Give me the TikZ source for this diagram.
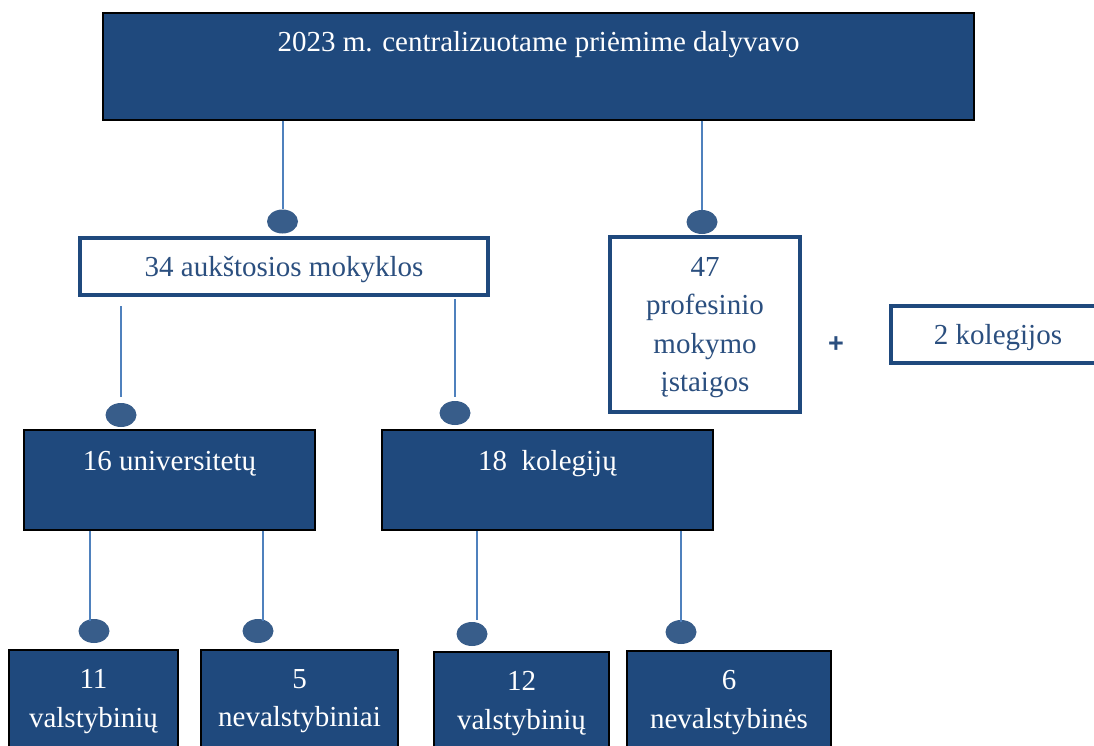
\documentclass[tikz,border=0pt]{standalone}
\usepackage{fontspec}
\setmainfont{Liberation Serif}
\newfontfamily\plusfont{Liberation Sans}
\usetikzlibrary{shapes.geometric}
\definecolor{navy}{HTML}{1F497D}
\definecolor{linkblue}{HTML}{4F81BD}
\definecolor{dotblue}{HTML}{385D8A}
\definecolor{txtblue}{HTML}{2B4F7F}
\tikzset{
  darkbox/.style={draw=black, line width=1.5pt, fill=navy, rectangle, inner sep=0pt},
  whitebox/.style={draw=navy, line width=4pt, fill=white, rectangle, inner sep=0pt, text=txtblue, align=center, text depth=0pt},
  dotnode/.style={ellipse, fill=dotblue, minimum width=31pt, minimum height=24pt, inner sep=0pt},
  conn/.style={draw=linkblue, line width=2pt},
  intext/.style={text=white, align=center, inner sep=0pt},
}
\begin{document}
\begin{tikzpicture}[x=1pt,y=-1pt,font=\fontsize{29}{38.5}\selectfont]
\useasboundingbox (0,0) rectangle (1094,746);
% boxes
\node[darkbox, minimum width=871pt, minimum height=107pt,
  label={[intext, anchor=base, yshift=-39pt]north:2023 m. centralizuotame priėmime dalyvavo}]
  (top) at (538.5,66.5) {};
\node[whitebox, minimum width=408pt, minimum height=57pt] (aukst) at (284,266.5) {34 aukštosios mokyklos};
\node[whitebox, minimum width=190pt, minimum height=175pt] (prof) at (705,324.5) {47\\profesinio\\mokymo\\įstaigos};
\node[text=txtblue, font=\plusfont\bfseries\fontsize{27}{29}\selectfont] (plus) at (836,345) {+};
\node[whitebox, minimum width=214pt, minimum height=57pt] (kol2) at (998,334.5) {2 kolegijos};
\node[darkbox, minimum width=291pt, minimum height=100pt,
  label={[intext, anchor=base, yshift=-41pt]north:16 universitetų}]
  (univ) at (169.5,480) {};
\node[darkbox, minimum width=331pt, minimum height=100pt,
  label={[intext, anchor=base, yshift=-41pt]north:18\ \ kolegijų}]
  (kolg) at (547.5,480) {};
\node[darkbox, minimum width=169pt, minimum height=120pt,
  label={[intext, anchor=north, yshift=-20pt]north:11\\valstybinių}]
  (b11) at (93.5,710) {};
\node[darkbox, minimum width=197pt, minimum height=120pt,
  label={[intext, anchor=north, yshift=-20pt]north:5\\nevalstybiniai}]
  (b5) at (299.5,710) {};
\node[darkbox, minimum width=175pt, minimum height=120pt,
  label={[intext, anchor=north, yshift=-20pt]north:12\\valstybinių}]
  (b12) at (521.5,712) {};
\node[darkbox, minimum width=204pt, minimum height=120pt,
  label={[intext, anchor=north, yshift=-20pt]north:6\\nevalstybinės}]
  (b6) at (729,711) {};
% dots
\node[dotnode] (d1) at (282.5,221.5) {};
\node[dotnode] (d2) at (702,222) {};
\node[dotnode] (d3) at (121,415) {};
\node[dotnode] (d4) at (455,413) {};
\node[dotnode] (d5) at (94,631) {};
\node[dotnode] (d6) at (258,631) {};
\node[dotnode] (d7) at (472,634) {};
\node[dotnode] (d8) at (681,632) {};
% connectors
\draw[conn] (top.south -| d1.center) -- (d1.north);
\draw[conn] (top.south -| d2.center) -- (d2.north);
\draw[conn] ([yshift=-9pt]aukst.south -| d3.center) -- ([yshift=6pt]d3.north);
\draw[conn] ([yshift=-2pt]aukst.south -| d4.center) -- ([yshift=4pt]d4.north);
\draw[conn] ([xshift=-4pt]univ.south -| d5.center) -- ([xshift=-4pt,yshift=-2pt]d5.north);
\draw[conn] ([xshift=5pt]univ.south -| d6.center) -- ([xshift=5pt,yshift=-2pt]d6.north);
\draw[conn] ([xshift=5pt]kolg.south -| d7.center) -- ([xshift=5pt,yshift=2pt]d7.north);
\draw[conn] (kolg.south -| d8.center) -- ([yshift=-2pt]d8.north);
\end{tikzpicture}
\end{document}
